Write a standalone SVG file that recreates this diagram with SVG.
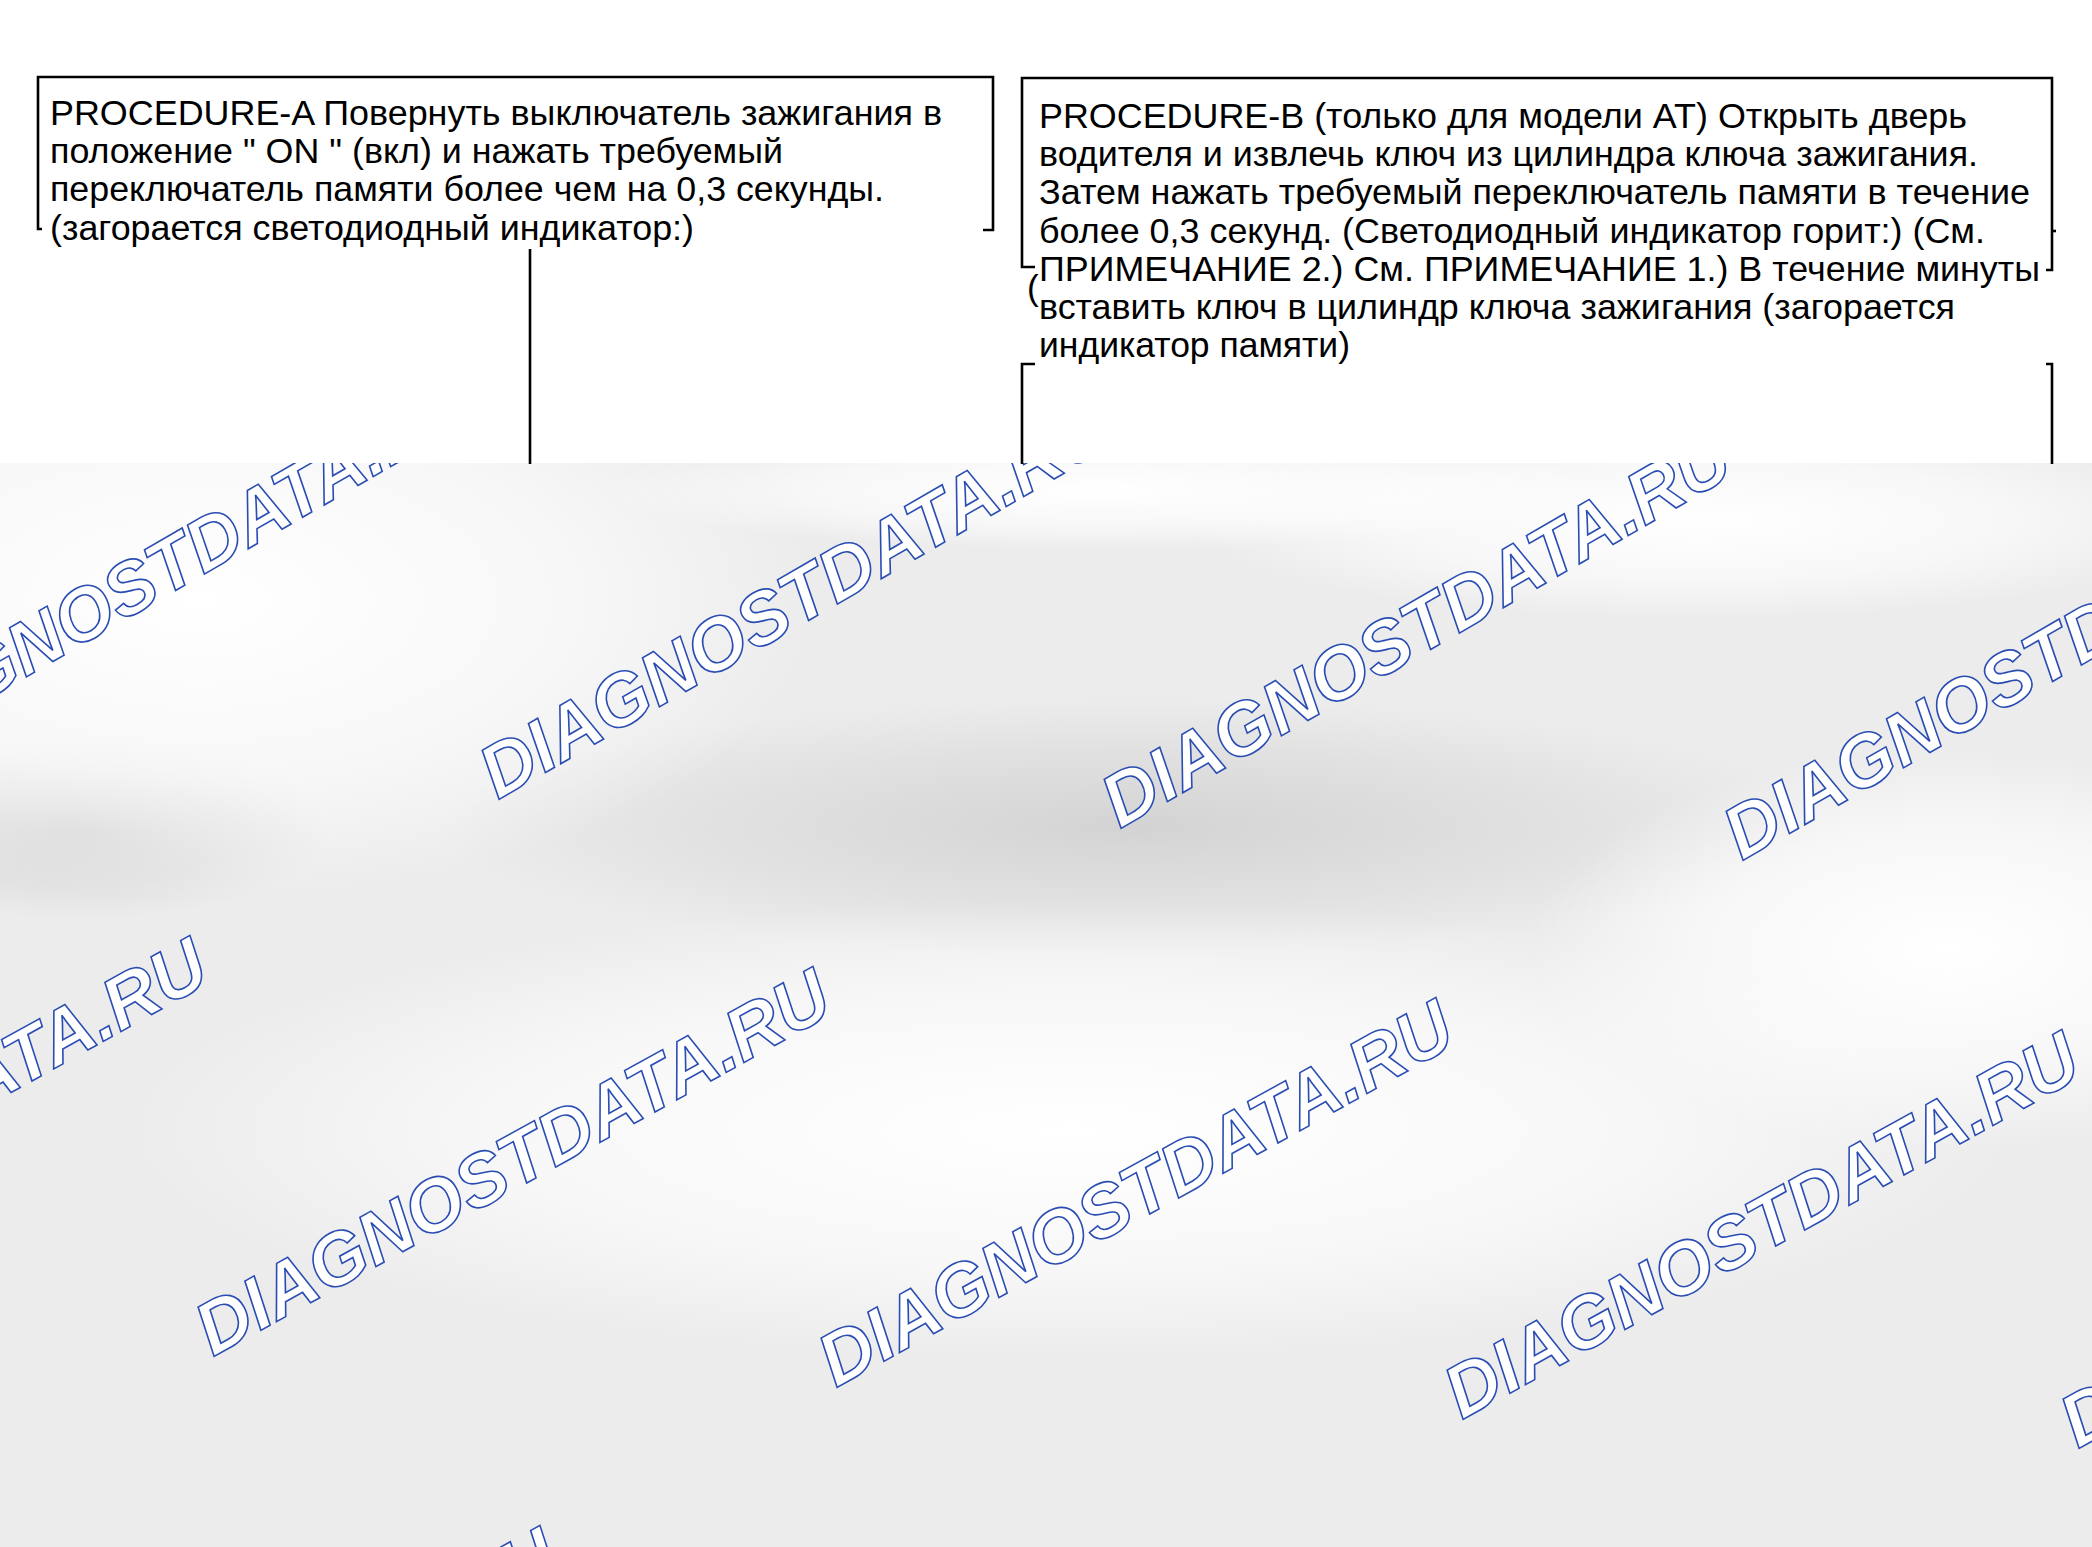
<svg xmlns="http://www.w3.org/2000/svg" width="2092" height="1547" viewBox="0 0 2092 1547">
<style>
.t{font-family:"Liberation Sans",Arial,sans-serif;font-size:35px;fill:#000}
.wm{font-family:"Liberation Sans",Arial,sans-serif;font-size:74px;font-weight:bold;font-style:italic;fill:#fff;stroke:#2a4db3;stroke-width:1.6}
.br{fill:none;stroke:#000;stroke-width:2.6}
</style>
<defs>
<radialGradient id="wh"><stop offset="0" stop-color="#fff" stop-opacity="1"/><stop offset="0.6" stop-color="#fff" stop-opacity="0.6"/><stop offset="1" stop-color="#fff" stop-opacity="0"/></radialGradient>
<radialGradient id="dk"><stop offset="0" stop-color="#d3d3d3" stop-opacity="1"/><stop offset="0.6" stop-color="#d6d6d6" stop-opacity="0.5"/><stop offset="1" stop-color="#d8d8d8" stop-opacity="0"/></radialGradient>
<clipPath id="gc"><rect x="0" y="463" width="2092" height="1084"/></clipPath>
</defs>
<rect x="0" y="0" width="2092" height="1547" fill="#fff"/>
<g id="background">
<rect x="0" y="463" width="2092" height="1084" fill="#ececec"/>
<g clip-path="url(#gc)">
<ellipse cx="1135" cy="827" rx="700" ry="130" fill="url(#dk)"/>
<ellipse cx="80" cy="830" rx="250" ry="90" fill="url(#dk)"/>
<ellipse cx="200" cy="600" rx="620" ry="300" fill="url(#wh)"/>
<ellipse cx="1070" cy="1130" rx="950" ry="230" fill="url(#wh)"/>
<ellipse cx="1950" cy="950" rx="420" ry="200" fill="url(#wh)"/>
<ellipse cx="1700" cy="520" rx="520" ry="100" fill="url(#wh)"/>
<ellipse cx="1100" cy="490" rx="500" ry="60" fill="url(#wh)"/>
</g>
</g>
<g id="watermarks" clip-path="url(#gc)">
<text class="wm" transform="translate(-135,770) rotate(-30)">DIAGNOSTDATA.RU</text>
<text class="wm" transform="translate(498,800) rotate(-30)">DIAGNOSTDATA.RU</text>
<text class="wm" transform="translate(1120,829) rotate(-30)">DIAGNOSTDATA.RU</text>
<text class="wm" transform="translate(1742,861) rotate(-30)">DIAGNOSTDATA.RU</text>
<text class="wm" transform="translate(-410,1326) rotate(-29)">DIAGNOSTDATA.RU</text>
<text class="wm" transform="translate(213,1357) rotate(-29)">DIAGNOSTDATA.RU</text>
<text class="wm" transform="translate(836,1388) rotate(-29)">DIAGNOSTDATA.RU</text>
<text class="wm" transform="translate(1462,1420) rotate(-29)">DIAGNOSTDATA.RU</text>
<text class="wm" transform="translate(2078,1449) rotate(-29)">DIAGNOSTDATA.RU</text>
<text class="wm" transform="translate(-60,1916) rotate(-29)">DIAGNOSTDATA.RU</text>
</g>
<g id="node-procedure-a">
<path class="br" d="M42,229 H38 V77 H993 V230 H983"/>
<text class="t" x="50" y="125" textLength="892" lengthAdjust="spacingAndGlyphs">PROCEDURE-A Повернуть выключатель зажигания в</text>
<text class="t" x="50" y="163" textLength="733" lengthAdjust="spacingAndGlyphs">положение " ON " (вкл) и нажать требуемый</text>
<text class="t" x="50" y="201" textLength="834" lengthAdjust="spacingAndGlyphs">переключатель памяти более чем на 0,3 секунды.</text>
<text class="t" x="50" y="240" textLength="644" lengthAdjust="spacingAndGlyphs">(загорается светодиодный индикатор:)</text>
</g>
<g id="node-procedure-b">
<path class="br" d="M1035,267 H1022 V78 H2052 V270 H2046"/>
<path class="br" d="M2052,231 H2056"/>
<text class="t" x="1039" y="128" textLength="928" lengthAdjust="spacingAndGlyphs">PROCEDURE-B (только для модели AT) Открыть дверь</text>
<text class="t" x="1039" y="166" textLength="939" lengthAdjust="spacingAndGlyphs">водителя и извлечь ключ из цилиндра ключа зажигания.</text>
<text class="t" x="1039" y="204" textLength="991" lengthAdjust="spacingAndGlyphs">Затем нажать требуемый переключатель памяти в течение</text>
<text class="t" x="1039" y="243" textLength="946" lengthAdjust="spacingAndGlyphs">более 0,3 секунд. (Светодиодный индикатор горит:) (См.</text>
<text class="t" x="1039" y="281" textLength="1001" lengthAdjust="spacingAndGlyphs">ПРИМЕЧАНИЕ 2.) См. ПРИМЕЧАНИЕ 1.) В течение минуты</text>
<text class="t" x="1027" y="300" font-size="30">(</text>
<text class="t" x="1039" y="319" textLength="916" lengthAdjust="spacingAndGlyphs">вставить ключ в цилиндр ключа зажигания (загорается</text>
<text class="t" x="1039" y="357" textLength="311" lengthAdjust="spacingAndGlyphs">индикатор памяти)</text>
</g>
<g id="node-next-b">
<path class="br" d="M1022,464 V364 H1035"/>
<path class="br" d="M2046,364 H2052 V464"/>
</g>
<g id="connectors">
<path class="br" d="M530,249 V464" stroke-width="3"/>
</g>
</svg>
